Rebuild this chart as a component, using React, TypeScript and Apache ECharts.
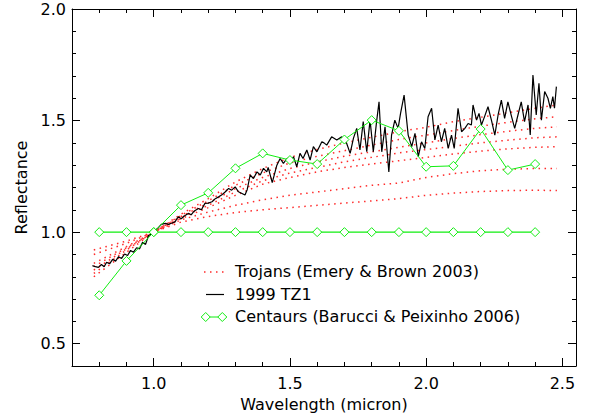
import React, { useEffect, useRef } from "react";
import * as echarts from "echarts";

const FONT = "DejaVu Sans";

// Axis tick values
const xMajor = [1.0, 1.5, 2.0, 2.5];
const xMinor = [0.8, 0.9, 1.0, 1.1, 1.2, 1.3, 1.4, 1.5, 1.6, 1.7, 1.8, 1.9, 2.0, 2.1, 2.2, 2.3, 2.4, 2.5];
const yMajor = [0.5, 1.0, 1.5, 2.0];
const yMinor = [0.4, 0.5, 0.6, 0.7, 0.8, 0.9, 1.0, 1.1, 1.2, 1.3, 1.4, 1.5, 1.6, 1.7, 1.8, 1.9, 2.0];

// Trojan spectra (Emery & Brown 2003)
const trojanWave = [0.78, 0.9, 1.0, 1.1, 1.2, 1.3, 1.4, 1.5, 1.6, 1.7, 1.8, 1.9, 2.0, 2.1, 2.2, 2.3, 2.4, 2.48];
const trojan1 = [0.92, 0.96, 1.0, 1.045, 1.07, 1.088, 1.1, 1.11, 1.12, 1.13, 1.14, 1.15, 1.165, 1.175, 1.182, 1.186, 1.188, 1.186];
const trojan2 = [0.9, 0.95, 1.0, 1.055, 1.09, 1.12, 1.145, 1.165, 1.18, 1.195, 1.21, 1.22, 1.245, 1.262, 1.275, 1.282, 1.285, 1.285];
const trojan3 = [0.86, 0.935, 1.0, 1.06, 1.11, 1.165, 1.215, 1.245, 1.27, 1.29, 1.305, 1.32, 1.335, 1.35, 1.363, 1.373, 1.38, 1.383];
const trojan4 = [0.845, 0.93, 1.0, 1.065, 1.12, 1.18, 1.23, 1.265, 1.29, 1.315, 1.335, 1.355, 1.37, 1.385, 1.4, 1.412, 1.423, 1.427];
const trojan5 = [0.83, 0.925, 1.0, 1.07, 1.13, 1.195, 1.245, 1.285, 1.315, 1.34, 1.36, 1.38, 1.4, 1.42, 1.437, 1.452, 1.465, 1.472];
const trojan6 = [0.815, 0.92, 1.0, 1.075, 1.14, 1.21, 1.265, 1.31, 1.34, 1.365, 1.39, 1.415, 1.435, 1.455, 1.475, 1.492, 1.508, 1.517];
const trojan7 = [0.8, 0.91, 1.0, 1.08, 1.15, 1.225, 1.285, 1.335, 1.37, 1.4, 1.425, 1.45, 1.47, 1.495, 1.515, 1.535, 1.555, 1.57];
const trojanLines = [trojan1, trojan2, trojan3, trojan4, trojan5, trojan6, trojan7];

// 1999 TZ1 spectrum
const tz1Wave = [
  0.775, 0.786, 0.797, 0.808, 0.818, 0.827, 0.838, 0.849, 0.86, 0.871, 0.882, 0.893, 0.904, 0.915, 0.926, 0.937,
  0.948, 0.959, 0.97, 0.981, 0.992, 1.003, 1.017, 1.028, 1.042, 1.054, 1.065, 1.078, 1.09, 1.101, 1.112, 1.127,
  1.138, 1.149, 1.164, 1.175, 1.188, 1.2, 1.214, 1.226, 1.238, 1.249, 1.263, 1.275, 1.286, 1.299, 1.311, 1.324,
  1.335, 1.343, 1.354, 1.366, 1.379, 1.391, 1.403, 1.415, 1.42, 1.435, 1.452, 1.464, 1.476, 1.489, 1.501, 1.513,
  1.525, 1.537, 1.548, 1.562, 1.574, 1.586, 1.599, 1.617, 1.625, 1.635, 1.653, 1.672, 1.69, 1.708, 1.721, 1.733,
  1.745, 1.757, 1.769, 1.782, 1.794, 1.806, 1.818, 1.827, 1.837, 1.849, 1.863, 1.873, 1.885, 1.897, 1.906, 1.919,
  1.934, 1.947, 1.959, 1.971, 1.983, 1.995, 2.007, 2.02, 2.032, 2.044, 2.056, 2.068, 2.081, 2.093, 2.103, 2.117,
  2.13, 2.142, 2.154, 2.166, 2.172, 2.185, 2.194, 2.203, 2.215, 2.227, 2.24, 2.252, 2.264, 2.276, 2.288, 2.3,
  2.313, 2.325, 2.337, 2.349, 2.361, 2.374, 2.382, 2.392, 2.404, 2.414, 2.423, 2.435, 2.447, 2.456, 2.465, 2.471,
  2.478,
];
const tz1Refl = [
  0.85, 0.845, 0.842, 0.855, 0.845, 0.865, 0.858, 0.878, 0.87, 0.89, 0.882, 0.902, 0.895, 0.918, 0.91, 0.93,
  0.925, 0.955, 0.945, 0.985, 0.992, 1.005, 1.02, 1.035, 1.039, 1.035, 1.04, 1.046, 1.069, 1.06, 1.072, 1.084,
  1.078, 1.095, 1.106, 1.1, 1.129, 1.13, 1.136, 1.15, 1.158, 1.166, 1.181, 1.196, 1.188, 1.203, 1.181, 1.173,
  1.166, 1.19, 1.256, 1.24, 1.27, 1.256, 1.286, 1.27, 1.29, 1.222, 1.3, 1.33, 1.308, 1.33, 1.315, 1.338,
  1.293, 1.353, 1.33, 1.368, 1.323, 1.383, 1.36, 1.405, 1.4, 1.39, 1.427, 1.413, 1.427, 1.398, 1.353, 1.42,
  1.465, 1.368, 1.495, 1.36, 1.502, 1.36, 1.495, 1.584, 1.36, 1.472, 1.27, 1.435, 1.502, 1.465, 1.532, 1.614,
  1.435, 1.383, 1.443, 1.338, 1.405, 1.375, 1.517, 1.555, 1.413, 1.48, 1.405, 1.465, 1.375, 1.435, 1.375, 1.555,
  1.45, 1.465, 1.487, 1.48, 1.57, 1.502, 1.532, 1.48, 1.52, 1.562, 1.5, 1.435, 1.525, 1.592, 1.51, 1.584,
  1.52, 1.465, 1.525, 1.584, 1.495, 1.57, 1.435, 1.704, 1.525, 1.667, 1.502, 1.63, 1.6, 1.555, 1.607, 1.555,
  1.652,
];

// Centaurs (Barucci & Peixinho 2006)
const centaurWave = [0.8, 0.9, 1.0, 1.1, 1.2, 1.3, 1.4, 1.5, 1.6, 1.7, 1.8, 1.9, 2.0, 2.1, 2.2, 2.3, 2.4];
const centaurRefl = [0.717, 0.871, 1.0, 1.121, 1.176, 1.286, 1.353, 1.323, 1.305, 1.415, 1.502, 1.454, 1.293, 1.297, 1.462, 1.278, 1.305];
const centaurFlat = [1.0, 1.0, 1.0, 1.0, 1.0, 1.0, 1.0, 1.0, 1.0, 1.0, 1.0, 1.0, 1.0, 1.0, 1.0, 1.0, 1.0];

const legendLabels = ["Trojans (Emery & Brown 2003)", "1999 TZ1", "Centaurs (Barucci & Peixinho 2006)"];

const RED = "#ff2a2a";
const GREEN = "#11ee11";

const pair = (xs: number[], ys: number[]) => xs.map((x, i) => [x, ys[i]]);

function diamond(cx: number, cy: number, r: number) {
  return {
    type: "polygon",
    shape: { points: [[cx, cy - r], [cx + r, cy], [cx, cy + r], [cx - r, cy]] },
    style: { fill: "#fff", stroke: GREEN, lineWidth: 1 },
    z: 20,
  };
}

export default function App() {
  const ref = useRef<HTMLDivElement>(null);
  useEffect(() => {
    const chart = echarts.init(ref.current as HTMLDivElement, null, { renderer: "svg" });
    const axisCommonX = { type: "value", min: 0.7, max: 2.55, splitLine: { show: false } };
    const axisCommonY = { type: "value", min: 0.4, max: 2.0, splitLine: { show: false } };
    const tickStyle = { color: "#000", width: 1 };
    const textBase = { fontFamily: FONT, fontSize: 16, color: "#000" };

    const trojanSeries = trojanLines.map((vals, k) => ({
      type: "line",
      name: k === 0 ? legendLabels[0] : legendLabels[0] + " " + (k + 1),
      data: pair(trojanWave, vals),
      symbol: "none",
      showSymbol: false,
      lineStyle: { color: RED, width: 1.5, type: [1.5, 4.5] },
      silent: true,
      z: 2,
    }));

    const centaurSymbol = {
      symbol: "diamond",
      symbolSize: 9,
      showSymbol: true,
      itemStyle: { color: "#fff", borderColor: GREEN, borderWidth: 1 },
    };

    chart.setOption({
      animation: false,
      backgroundColor: "#fff",
      grid: { left: 72, top: 9, width: 504, height: 357, containLabel: false },
      xAxis: [
        {
          ...axisCommonX,
          position: "bottom",
          axisLine: { show: true, onZero: false, lineStyle: tickStyle },
          axisTick: { show: true, inside: true, length: 8, customValues: xMajor, lineStyle: tickStyle },
          axisLabel: { ...textBase, customValues: xMajor, margin: 9, formatter: (v: number) => v.toFixed(1) },
          name: "Wavelength (micron)",
          nameLocation: "middle",
          nameGap: 30,
          nameTextStyle: { ...textBase },
        },
        {
          ...axisCommonX,
          position: "bottom",
          axisLine: { show: false, onZero: false },
          axisTick: { show: true, inside: true, length: 4, customValues: xMinor, lineStyle: tickStyle },
          axisLabel: { show: false },
        },
        {
          ...axisCommonX,
          position: "top",
          axisLine: { show: true, onZero: false, lineStyle: tickStyle },
          axisTick: { show: true, inside: true, length: 8, customValues: xMajor, lineStyle: tickStyle },
          axisLabel: { show: false },
        },
        {
          ...axisCommonX,
          position: "top",
          axisLine: { show: false, onZero: false },
          axisTick: { show: true, inside: true, length: 4, customValues: xMinor, lineStyle: tickStyle },
          axisLabel: { show: false },
        },
      ],
      yAxis: [
        {
          ...axisCommonY,
          position: "left",
          axisLine: { show: true, onZero: false, lineStyle: tickStyle },
          axisTick: { show: true, inside: true, length: 8, customValues: yMajor, lineStyle: tickStyle },
          axisLabel: { ...textBase, customValues: yMajor, margin: 6, formatter: (v: number) => v.toFixed(1) },
          name: "Reflectance",
          nameLocation: "middle",
          nameGap: 42,
          nameTextStyle: { ...textBase },
        },
        {
          ...axisCommonY,
          position: "left",
          axisLine: { show: false, onZero: false },
          axisTick: { show: true, inside: true, length: 4, customValues: yMinor, lineStyle: tickStyle },
          axisLabel: { show: false },
        },
        {
          ...axisCommonY,
          position: "right",
          axisLine: { show: true, onZero: false, lineStyle: tickStyle },
          axisTick: { show: true, inside: true, length: 8, customValues: yMajor, lineStyle: tickStyle },
          axisLabel: { show: false },
        },
        {
          ...axisCommonY,
          position: "right",
          axisLine: { show: false, onZero: false },
          axisTick: { show: true, inside: true, length: 4, customValues: yMinor, lineStyle: tickStyle },
          axisLabel: { show: false },
        },
      ],
      series: [
        ...trojanSeries,
        {
          type: "line",
          name: legendLabels[1],
          data: pair(tz1Wave, tz1Refl),
          symbol: "none",
          showSymbol: false,
          lineStyle: { color: "#000", width: 1.2 },
          silent: true,
          z: 3,
        },
        {
          type: "line",
          name: "Centaurs flat",
          data: pair(centaurWave, centaurFlat),
          ...centaurSymbol,
          lineStyle: { color: GREEN, width: 1.3 },
          silent: true,
          z: 4,
        },
        {
          type: "line",
          name: legendLabels[2],
          data: pair(centaurWave, centaurRefl),
          ...centaurSymbol,
          lineStyle: { color: GREEN, width: 1 },
          silent: true,
          z: 5,
        },
      ],
      graphic: [
        {
          type: "line",
          shape: { x1: 204, y1: 272, x2: 228, y2: 272 },
          style: { stroke: RED, lineWidth: 1.5, lineDash: [1.5, 4.5] },
        },
        {
          type: "text",
          left: 235,
          top: 263,
          style: { text: legendLabels[0], fill: "#000", font: "16px 'DejaVu Sans'" },
        },
        {
          type: "line",
          shape: { x1: 206, y1: 294.5, x2: 224, y2: 294.5 },
          style: { stroke: "#000", lineWidth: 1.2 },
        },
        {
          type: "text",
          left: 235,
          top: 286,
          style: { text: legendLabels[1], fill: "#000", font: "16px 'DejaVu Sans'" },
        },
        {
          type: "line",
          shape: { x1: 205.7, y1: 317, x2: 222.3, y2: 317 },
          style: { stroke: GREEN, lineWidth: 1 },
        },
        diamond(205.7, 317, 4.5),
        diamond(222.3, 317, 4.5),
        {
          type: "text",
          left: 235,
          top: 308,
          style: { text: legendLabels[2], fill: "#000", font: "16px 'DejaVu Sans'" },
        },
      ],
    });
    return () => chart.dispose();
  }, []);
  return <div ref={ref} style={{ position: "fixed", left: 0, top: 0, width: 593, height: 418 }} />;
}
